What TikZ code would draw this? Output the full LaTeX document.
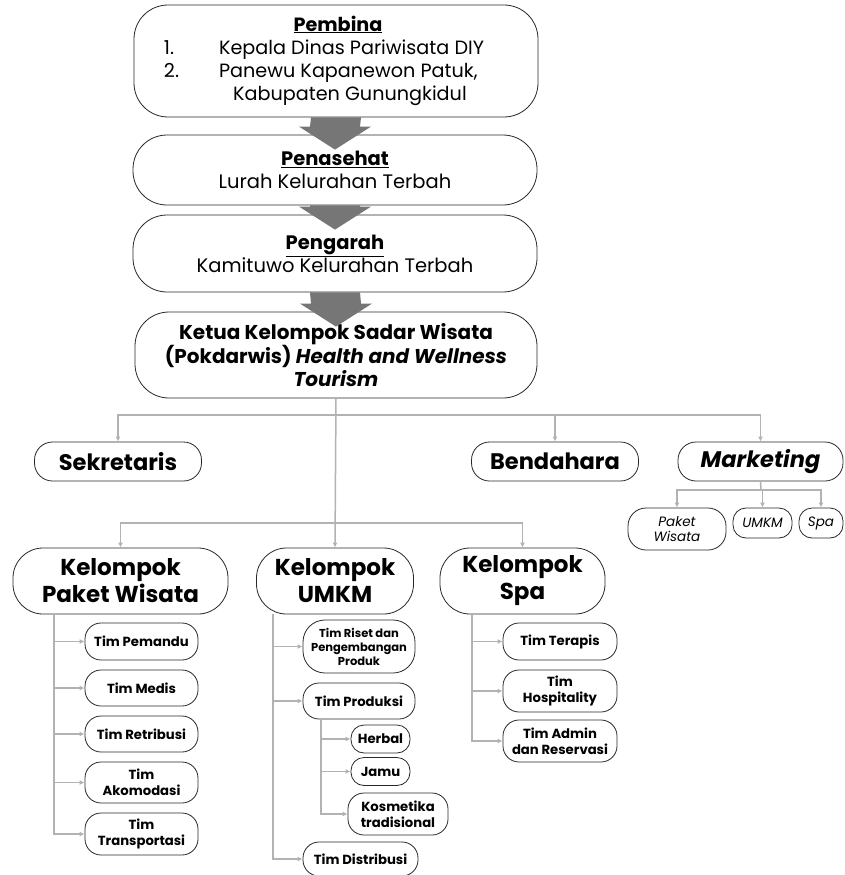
\documentclass[tikz,border=0pt]{standalone}
\usepackage{fontspec}
\setmainfont{Poppins}
\usepackage{xcolor}
\usepackage{tikz}
\usetikzlibrary{arrows.meta, positioning, calc}
\definecolor{boxline}{RGB}{40, 40, 40}
\definecolor{blockgray}{RGB}{118, 118, 118}
\definecolor{linkgray}{RGB}{178, 178, 178}

\tikzset{
    orgbox/.style={draw=boxline, line width=0.8pt, fill=white, align=center, inner sep=0pt},
    topbox/.style={orgbox, minimum width=404pt, rounded corners=34pt},
    rolebox/.style={orgbox, minimum width=167pt, minimum height=39pt, rounded corners=18pt,
                    font=\fontsize{22.5}{26}\selectfont\bfseries},
    groupbox/.style={orgbox, minimum height=66pt, rounded corners=30pt,
                     font=\fontsize{23}{27}\selectfont\bfseries},
    teambox/.style={orgbox, rounded corners=16pt, font=\fontsize{13.2}{16}\selectfont\bfseries},
    mktbox/.style={orgbox, rounded corners=13pt, font=\fontsize{13.5}{15}\selectfont\itshape},
    link/.style={draw=linkgray, line width=1.5pt, -{Latex[length=5pt,width=5pt]}},
    plainlink/.style={draw=linkgray, line width=1.5pt}
}

\newcommand{\blockarrow}[2]{%
    \fill[blockgray] ($(#1.south)+(-25,0)$) -- ($(#1.south)+(25,0)$) -- ($(#2.north)+(25,-8)$)
        -- ($(#2.north)+(36,-8)$) -- ($(#2.north)+(0,15)$) -- ($(#2.north)+(-36,-8)$)
        -- ($(#2.north)+(-25,-8)$) -- cycle;}

\begin{document}
\begin{tikzpicture}[x=1pt, y=-1pt]
    \useasboundingbox (0,0) rectangle (845,875);

    % top chain
    \node[topbox, minimum height=112pt, font=\fontsize{19.2}{23}\selectfont] (pembina) at (336,61) {%
        \hspace*{-24pt}\begin{tabular}{@{}l@{\hspace{40pt}}l@{}}
            \multicolumn{2}{c}{\hspace*{28pt}\underline{\textbf{Pembina}}}\\
            1. & Kepala Dinas Pariwisata DIY\\
            2. & Panewu Kapanewon Patuk,\\
               & \hspace*{14pt}Kabupaten Gunungkidul
        \end{tabular}};
    \node[topbox, minimum height=70pt, font=\fontsize{19.5}{23}\selectfont] (penasehat) at (335,170)
        {\underline{\textbf{Penasehat}}\\Lurah Kelurahan Terbah};
    \node[topbox, minimum height=77pt, font=\fontsize{19.5}{23}\selectfont] (pengarah) at (335,253.5)
        {\underline{\textbf{Pengarah}}\\Kamituwo Kelurahan Terbah};
    \node[topbox, minimum width=402pt, minimum height=86pt, font=\fontsize{20}{23}\selectfont\bfseries] (ketua) at (336,355)
        {Ketua Kelompok Sadar Wisata\\(Pokdarwis) \textit{Health and Wellness}\\\textit{Tourism}};

    \blockarrow{pembina}{penasehat}
    \blockarrow{penasehat}{pengarah}
    \blockarrow{pengarah}{ketua}

    % staff
    \node[rolebox] (sekretaris) at (118,461.5) {Sekretaris};
    \node[rolebox] (bendahara) at (555,461.5) {Bendahara};
    \node[rolebox, minimum width=165pt] (marketing) at (760.5,461.5) {\textit{Marketing}};

    \node[mktbox, minimum width=98pt, minimum height=42pt, rounded corners=18pt] (mpaket) at (677,529) {Paket\\Wisata};
    \node[mktbox, minimum width=59pt, minimum height=30pt] (mumkm) at (762.5,523) {UMKM};
    \node[mktbox, minimum width=44pt, minimum height=30pt] (mspa) at (821,523) {Spa};

    % groups
    \node[groupbox, minimum width=215pt] (kpaket) at (120.5,581) {Kelompok\\Paket Wisata};
    \node[groupbox, minimum width=157pt] (kumkm) at (335,581) {Kelompok\\UMKM};
    \node[groupbox, minimum width=165pt] (kspa) at (522.5,581) {Kelompok\\Spa};

    \node[teambox, minimum width=113pt, minimum height=37pt] (pemandu) at (141.5,641.5) {Tim Pemandu};
    \node[teambox, minimum width=113pt, minimum height=36pt] (medis) at (141.5,688) {Tim Medis};
    \node[teambox, minimum width=113pt, minimum height=36pt] (retribusi) at (141.5,734) {Tim Retribusi};
    \node[teambox, minimum width=113pt, minimum height=41pt] (akomodasi) at (141.5,782.5) {Tim\\Akomodasi};
    \node[teambox, minimum width=113pt, minimum height=42pt] (transportasi) at (141.5,834) {Tim\\Transportasi};

    \node[teambox, minimum width=112pt, minimum height=53pt, rounded corners=22pt,
          font=\fontsize{11.5}{14}\selectfont\bfseries] (riset) at (359,646.5) {Tim Riset dan\\Pengembangan\\Produk};
    \node[teambox, minimum width=112pt, minimum height=36pt] (produksi) at (359,701) {Tim Produksi};
    \node[teambox, minimum width=59pt, minimum height=28pt, rounded corners=13pt] (herbal) at (380.5,739) {Herbal};
    \node[teambox, minimum width=59pt, minimum height=28pt, rounded corners=13pt] (jamu) at (380.5,771.5) {Jamu};
    \node[teambox, minimum width=100pt, minimum height=42pt] (kosmetika) at (398,814) {Kosmetika\\tradisional};
    \node[teambox, minimum width=115pt, minimum height=34pt] (distribusi) at (360.5,859) {Tim Distribusi};

    \node[teambox, minimum width=114pt, minimum height=37pt] (terapis) at (560,641.5) {Tim Terapis};
    \node[teambox, minimum width=114pt, minimum height=42pt] (hospitality) at (560,691) {Tim\\Hospitality};
    \node[teambox, minimum width=114pt, minimum height=42pt] (admin) at (560,741) {Tim Admin\\dan Reservasi};

    % connectors
    \coordinate (bus1) at (334,415);
    \coordinate (bus2) at (334,523);
    \coordinate (mbus) at (761,490);
    \draw[link] (ketua.south) -- (kumkm.north);
    \draw[link] (bus1) -| (sekretaris.north);
    \draw[link] (bus1) -| (bendahara.north);
    \draw[link] (bus1) -| (marketing.north);
    \draw[link] (bus2) -| (kpaket.north);
    \draw[link] (bus2) -| (kspa.north);

    \draw[plainlink] (marketing.south) -- (mbus);
    \foreach \m in {mpaket, mumkm, mspa}
        \draw[link] (mbus) -| (\m.north);

    \coordinate (pline) at (54,0);
    \coordinate (uline) at (273,0);
    \coordinate (sline) at (472,0);
    \coordinate (prline) at (321,0);
    \foreach \t in {pemandu, medis, retribusi, akomodasi, transportasi}
        \draw[link] (kpaket.south -| pline) |- (\t.west);
    \foreach \t in {riset, produksi, distribusi}
        \draw[link] (kumkm.south -| uline) |- (\t.west);
    \foreach \t in {herbal, jamu, kosmetika}
        \draw[link] (produksi.south -| prline) |- (\t.west);
    \foreach \t in {terapis, hospitality, admin}
        \draw[link] (kspa.south -| sline) |- (\t.west);
\end{tikzpicture}
\end{document}
